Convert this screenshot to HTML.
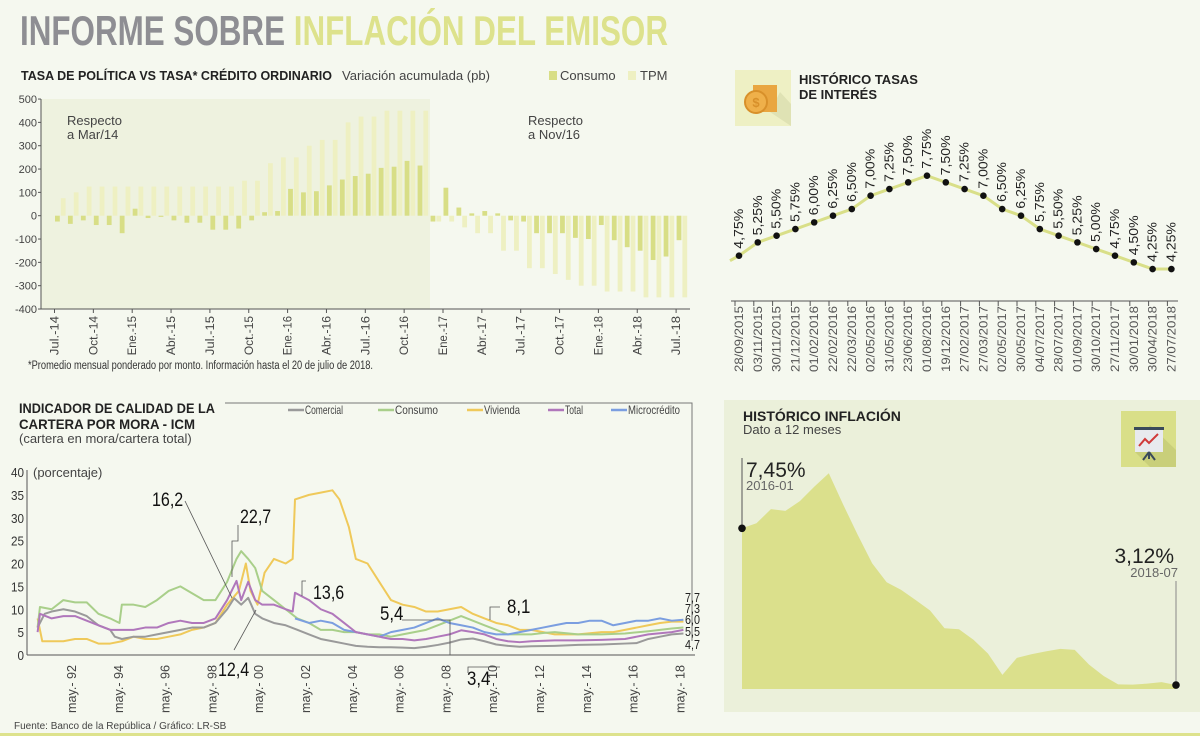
<!DOCTYPE html>
<html><head><meta charset="utf-8">
<style>
html,body{margin:0;padding:0;background:#f5f8ef;}
svg{display:block;font-family:"Liberation Sans Narrow","Liberation Sans",sans-serif;}
.b{font-family:"Liberation Sans",sans-serif;font-weight:bold;}
</style></head>
<body>
<svg id="svg" width="1200" height="736" viewBox="0 0 1200 736" xmlns="http://www.w3.org/2000/svg">
<rect x="0" y="0" width="1200" height="736" fill="#f5f8ef"/>
<text x="20" y="45" font-size="42" class="b" textLength="648" lengthAdjust="spacingAndGlyphs"><tspan fill="#8e8e93">INFORME SOBRE </tspan><tspan fill="#dde28c">INFLACIÓN DEL EMISOR</tspan></text>

<g id="tl">
<rect x="41" y="99" width="389" height="210" fill="#eef2df"/>
<text x="21" y="80" font-size="12.5" class="b" fill="#222" textLength="311" lengthAdjust="spacingAndGlyphs">TASA DE POLÍTICA VS TASA* CRÉDITO ORDINARIO</text>
<text x="342" y="80" font-size="13" fill="#444" textLength="148" lengthAdjust="spacingAndGlyphs">Variación acumulada (pb)</text>
<rect x="549" y="71" width="8" height="9" fill="#d8de86"/>
<text x="560" y="80" font-size="13" fill="#444">Consumo</text>
<rect x="628" y="71" width="8" height="9" fill="#eef0c2"/>
<text x="640" y="80" font-size="13" fill="#444">TPM</text>
<text x="67" y="125" font-size="13" fill="#444"><tspan x="67">Respecto</tspan><tspan x="67" dy="14">a Mar/14</tspan></text>
<text x="528" y="125" font-size="13" fill="#444"><tspan x="528">Respecto</tspan><tspan x="528" dy="14">a Nov/16</tspan></text>
<text x="28" y="369" font-size="11.5" fill="#333" textLength="345" lengthAdjust="spacingAndGlyphs">*Promedio mensual ponderado por monto. Información hasta el 20 de julio de 2018.</text>
</g>

<g id="tr">
<rect x="735" y="70" width="56" height="56" fill="#eef0c4"/>
<polygon points="770,112 791,126 791,104 780,92" fill="#dfe2b4"/>
<rect x="753" y="85" width="24" height="27" fill="#e9a640"/>
<circle cx="756" cy="102" r="11" fill="#efb04a" stroke="#d8902a" stroke-width="2"/>
<text x="756" y="107" font-size="13" text-anchor="middle" fill="#d8902a" class="b">$</text>
<text x="799" y="84" font-size="13" class="b" fill="#222"><tspan x="799">HISTÓRICO TASAS</tspan><tspan x="799" dy="15">DE INTERÉS</tspan></text>
<line x1="731" y1="301" x2="1178" y2="301" stroke="#555" stroke-width="1"/>
</g>

<g id="bl">
<text x="19" y="413" font-size="14" class="b" fill="#222"><tspan x="19" textLength="196" lengthAdjust="spacingAndGlyphs">INDICADOR DE CALIDAD DE LA</tspan><tspan x="19" dy="16" textLength="176" lengthAdjust="spacingAndGlyphs">CARTERA POR MORA   - ICM</tspan></text>
<text x="19" y="443" font-size="13" fill="#444">(cartera en mora/cartera total)</text>
<text x="33" y="477" font-size="13" fill="#444">(porcentaje)</text>
<polyline points="225,403 692,403 692,641" fill="none" stroke="#777" stroke-width="1"/>
<text x="14" y="729" font-size="10" fill="#444">Fuente: Banco de la República / Gráfico: LR-SB</text>
</g>
<rect x="0" y="733" width="1200" height="3" fill="#dde28c"/>

<g id="br">
<rect x="724" y="400" width="476" height="312" fill="#ebf0da"/>
<text x="743" y="421" font-size="14" class="b" fill="#222">HISTÓRICO INFLACIÓN</text>
<text x="743" y="434" font-size="13" fill="#444">Dato a 12 meses</text>
<rect x="1121" y="411" width="55" height="56" fill="#d9df88"/>
<polygon points="1150,425 1176,450 1176,467 1150,467 1135,452" fill="#c9cf7a"/>
<rect x="1134" y="427" width="30" height="3" fill="#3a4a5a"/>
<rect x="1135" y="430" width="28" height="22" fill="#e8eaee"/>
<polyline points="1139,446 1145,439 1149,443 1158,434" fill="none" stroke="#d03a3a" stroke-width="2"/>
<path d="M1149 452 L1143 460 M1149 452 L1155 460 M1149 452 L1149 459" stroke="#3a4a5a" stroke-width="2"/>
</g>
</svg>
<script>
const tlMonths = ["Jul.-14","Ago.-14","Sep.-14","Oct.-14","Nov.-14","Dic.-14","Ene.-15","Feb.-15","Mar.-15","Abr.-15","May.-15","Jun.-15","Jul.-15","Ago.-15","Sep.-15","Oct.-15","Nov.-15","Dic.-15","Ene.-16","Feb.-16","Mar.-16","Abr.-16","May.-16","Jun.-16","Jul.-16","Ago.-16","Sep.-16","Oct.-16","Nov.-16","Dic.-16","Ene.-17","Feb.-17","Mar.-17","Abr.-17","May.-17","Jun.-17","Jul.-17","Ago.-17","Sep.-17","Oct.-17","Nov.-17","Dic.-17","Ene.-18","Feb.-18","Mar.-18","Abr.-18","May.-18","Jun.-18","Jul.-18"];
const tlConsumo = [-25,-35,-20,-40,-40,-75,30,-10,-5,-20,-30,-30,-60,-60,-55,-20,15,20,115,100,105,130,155,170,180,205,210,235,215,-25,120,35,10,20,10,-20,-25,-75,-75,-75,-95,-100,-40,-105,-135,-150,-190,-175,-105];
const tlTPM = [75,100,125,125,125,125,125,125,125,125,125,125,125,125,150,150,225,250,250,300,325,325,400,425,425,450,450,450,450,-25,-25,-50,-75,-75,-150,-150,-225,-225,-250,-275,-300,-300,-325,-325,-325,-350,-350,-350,-350];
const tlYTicks = [500,400,300,200,100,0,-100,-200,-300,-400];

const trDates = ["28/09/2015","03/11/2015","30/11/2015","21/12/2015","01/02/2016","22/02/2016","22/03/2016","02/05/2016","31/05/2016","23/06/2016","01/08/2016","19/12/2016","27/02/2017","27/03/2017","02/05/2017","30/05/2017","04/07/2017","28/07/2017","01/09/2017","30/10/2017","27/11/2017","30/01/2018","30/04/2018","27/07/2018"];
const trRates = [4.75,5.25,5.50,5.75,6.00,6.25,6.50,7.00,7.25,7.50,7.75,7.50,7.25,7.00,6.50,6.25,5.75,5.50,5.25,5.00,4.75,4.50,4.25,4.25];

const blYTicks = [0,5,10,15,20,25,30,35,40];
const blXTicks = ["92","94","96","98","00","02","04","06","08","10","12","14","16","18"];
const blXTickYears = [1992,1994,1996,1998,2000,2002,2004,2006,2008,2010,2012,2014,2016,2018];
const comercialT = [1990.9,1991.2,1991.5,1992,1992.5,1993,1993.5,1994,1994.2,1994.5,1995,1995.5,1996,1996.5,1997,1997.5,1998,1998.5,1999,1999.3,1999.6,1999.9,2000.2,2000.5,2001,2001.5,2002,2002.5,2003,2003.5,2004,2004.5,2005,2005.5,2006,2006.5,2007,2007.5,2008,2008.5,2009,2009.5,2010,2010.5,2011,2011.5,2012,2013,2014,2015,2016,2016.5,2017,2017.5,2018,2018.5];
const comercialV = [6,9,9.5,10,9.5,8.5,6.5,5.5,4,3.5,4,4,4.5,5,5.5,6,6,7,10,12.4,11,12.5,9,8,7,6.5,5.5,4.5,3.5,3,2.5,2,1.8,1.7,1.7,1.6,1.5,1.8,2.2,2.7,3.4,3.6,3,2.3,2,1.8,1.9,2,2.2,2.3,2.5,2.6,3.5,4,4.5,4.7];
const consumoT = [1990.9,1991,1991.5,1992,1992.5,1993,1993.5,1994,1994.4,1994.5,1995,1995.5,1996,1996.5,1997,1997.5,1998,1998.5,1999,1999.4,1999.6,1999.9,2000.2,2000.5,2001,2001.5,2002,2002.5,2003,2003.5,2004,2004.5,2005,2005.5,2006,2006.5,2007,2007.5,2008,2008.5,2009,2009.5,2010,2010.5,2011,2011.5,2012,2012.5,2013,2014,2015,2016,2017,2018,2018.5];
const consumoV = [6,10.5,10,12,11.5,11.5,9,8,7,11,11,10.5,12,14,15,13.5,12,12,16,21,22.7,21,19,14,12,10,8,7,5.5,5.5,5,5,4.5,4.5,4,4.5,5,5.5,6.5,7.5,8.5,7.5,6.5,5.5,4.5,4.5,4.5,4.8,5,4.5,4.5,4.7,5.2,5.8,6.0];
const viviendaT = [1990.9,1991.1,1991.5,1992,1992.5,1993,1993.5,1994,1994.5,1995,1995.5,1996,1996.5,1997,1997.5,1998,1998.5,1999,1999.5,1999.8,2000,2000.3,2000.6,2001,2001.5,2001.8,2001.9,2002.5,2003,2003.5,2003.8,2004.2,2004.5,2005,2005.5,2006,2006.5,2007,2007.5,2008,2008.5,2009,2009.5,2010,2010.5,2011,2011.5,2012,2012.5,2013,2014,2015,2015.5,2016,2016.5,2017,2017.5,2018,2018.5];
const viviendaV = [8,3,3,3,3.5,3.5,2.5,2.5,3,4,3.5,3.5,4,4.5,5.5,6,7,11,14,20,14,11,18,21,20,21,34,35,35.5,36,34,28,21,20,16,12,11,10.5,9.5,9.5,10,10.5,9,8,7,6.5,5.5,5.5,5,4.5,4.5,5,5,5.5,6,6.5,7,7.3,7.3];
const totalT = [1990.9,1991,1991.5,1992,1992.5,1993,1993.5,1994,1994.5,1995,1995.5,1996,1996.5,1997,1997.5,1998,1998.5,1999,1999.4,1999.6,1999.9,2000.2,2000.5,2001,2001.5,2001.8,2001.9,2002.5,2003,2003.5,2004,2004.5,2005,2005.5,2006,2006.5,2007,2007.5,2008,2008.5,2009,2009.5,2010,2010.5,2011,2011.5,2012,2013,2014,2015,2016,2017,2018,2018.5];
const totalV = [5,9,8,8.5,8.5,7.5,6.5,5.5,5.5,5.5,6,6,7,7.5,7,7,8,12,16.2,12,16,12,11,11,10,9.5,13.6,12,10,9,7,5,4.5,4,3.5,3.5,3.2,3.5,4,4.5,5.4,5,4.5,3.5,3,2.8,3,3.2,3.2,3.3,3.5,4.5,5,5.5];
const microT = [2001.9,2002.5,2003,2003.5,2004,2004.5,2005,2005.5,2006,2006.5,2007,2007.5,2008,2008.5,2009,2009.5,2010,2010.5,2011,2011.5,2012,2012.5,2013,2013.5,2014,2014.5,2015,2015.5,2016,2016.5,2017,2017.5,2018,2018.5];
const microV = [8,7,7.5,7,5.5,5,4.5,4,5,5.5,6,7,8,7,6.5,6,5,4.5,4.5,5,5.5,6,6.5,7,7,7.5,7.5,6.5,7,7.5,7.5,8,7.5,7.7];
const blSeriesNames = ["Comercial","Consumo","Vivienda","Total","Microcrédito"];

const infMonths = ["2016-01","2016-02","2016-03","2016-04","2016-05","2016-06","2016-07","2016-08","2016-09","2016-10","2016-11","2016-12","2017-01","2017-02","2017-03","2017-04","2017-05","2017-06","2017-07","2017-08","2017-09","2017-10","2017-11","2017-12","2018-01","2018-02","2018-03","2018-04","2018-05","2018-06","2018-07"];
const infValues = [7.45,7.59,7.98,7.93,8.20,8.60,8.97,8.10,7.27,6.48,5.96,5.75,5.47,5.18,4.69,4.66,4.37,3.99,3.40,3.87,3.97,4.05,4.12,4.09,3.68,3.37,3.14,3.13,3.16,3.20,3.12];

const NS="http://www.w3.org/2000/svg";
function mk(parent, tag, attrs, text){
  const e=document.createElementNS(NS,tag);
  for(const k in attrs) e.setAttribute(k,attrs[k]);
  if(text!==undefined) e.textContent=text;
  document.getElementById(parent).appendChild(e);
  return e;
}

const xL=i=>54.5+i*12.95, yL=v=>215.7-v*0.2333;
tlYTicks.forEach(v=>{
  const t=mk('tl','text',{x:37,y:yL(v)+4,'font-size':11,'text-anchor':'end',fill:'#444'},String(v));
  
  
  const l=mk('tl','line',{x1:38,x2:41,y1:yL(v),y2:yL(v),stroke:'#555'});
  
  
});
tlMonths.forEach((m,i)=>{
  const c=tlConsumo[i], p=tlTPM[i];
  const b1=mk('tl','rect',{x:xL(i)+0.5,width:4.8,y:Math.min(yL(0),yL(c)),height:Math.abs(yL(c)-yL(0)),fill:'#d8de86'});
  
  
  const b2=mk('tl','rect',{x:xL(i)+6.3,width:4.8,y:Math.min(yL(0),yL(p)),height:Math.abs(yL(p)-yL(0)),fill:'#eef0c2'});
  
  
  if(i%3===0){
    const tk=mk('tl','line',{x1:xL(i),x2:xL(i),y1:309,y2:313,stroke:'#555'});
    
    
    const tx=mk('tl','text',{x:0,y:0,'font-size':11.5,'text-anchor':'end',fill:'#444',textLength:m.length*5.6,lengthAdjust:'spacingAndGlyphs',transform:`translate(${xL(i)+4},316) rotate(-90)`},m);
    
    
  }
});
const axL1=mk('tl','line',{x1:41,x2:41,y1:99,y2:309,stroke:'#555'});


const axL2=mk('tl','line',{x1:41,x2:690,y1:309,y2:309,stroke:'#555'});



const xR=i=>739+i*18.8, yR=v=>255.7-(v-4.75)*26.67;
let pts='730,'+(yR(4.75)+5)+' ';
trRates.forEach((v,i)=>{pts+=xR(i)+','+yR(v)+' ';});
const rl=mk('tr','polyline',{points:pts,fill:'none',stroke:'#d9df88','stroke-width':3});


trRates.forEach((v,i)=>{
  const d=mk('tr','circle',{cx:xR(i),cy:yR(v),r:3.3,fill:'#111'});
  
  
  const lb=mk('tr','text',{x:0,y:0,'font-size':13,fill:'#222',textLength:40,lengthAdjust:'spacingAndGlyphs',transform:`translate(${xR(i)+4},${yR(v)-7}) rotate(-90)`},v.toFixed(2).replace('.',',')+'%');
  
  
  const tk=mk('tr','line',{x1:xR(i)-4,x2:xR(i)-4,y1:301,y2:306,stroke:'#555'});
  
  
  const dl=mk('tr','text',{x:0,y:0,'font-size':12,'text-anchor':'end',fill:'#555',textLength:66,lengthAdjust:'spacingAndGlyphs',transform:`translate(${xR(i)+4},306) rotate(-90)`},trDates[i]);
  
  
});

const xB=t=>72+(t-1992.37)*23.4, yB=v=>655-v*4.575;
blYTicks.forEach(v=>{
  const t=mk('bl','text',{x:24,y:yB(v)+5,'font-size':13,'text-anchor':'end',fill:'#333',textLength:String(v).length*6.5,lengthAdjust:'spacingAndGlyphs'},String(v));
  
  
});
const ya=mk('bl','line',{x1:27,x2:27,y1:470,y2:655,stroke:'#555'});


const xa=mk('bl','line',{x1:27,x2:695,y1:655,y2:655,stroke:'#555'});


blXTicks.forEach((lab,i)=>{
  const x=xB(blXTickYears[i]+0.37);
  const t=mk('bl','text',{x:0,y:0,'font-size':12.5,'text-anchor':'end',fill:'#444',textLength:48,lengthAdjust:'spacingAndGlyphs',transform:`translate(${x+4},665) rotate(-90)`},'may.- '+lab);
  
  
});
const blData=[[comercialT,comercialV,'#9a9a9a'],[consumoT,consumoV,'#a9cf8a'],[viviendaT,viviendaV,'#efc95a'],[totalT,totalV,'#b077bb'],[microT,microV,'#7b9ee0']];
const drawOrder=[2,1,0,4,3];
drawOrder.forEach(k=>{
  const [T,V,col]=blData[k];
  const p=T.map((t,i)=>xB(t)+','+yB(V[i])).join(' ');
  const l=mk('bl','polyline',{points:p,fill:'none',stroke:col,'stroke-width':2,'stroke-linejoin':'round'});
  
  
});
const legX=[288,378,467,548,611];
const legW=[38,43,36,18,52];
blSeriesNames.forEach((n,i)=>{
  const l=mk('bl','line',{x1:legX[i],x2:legX[i]+16,y1:410,y2:410,stroke:blData[i][2],'stroke-width':2.5});
  
  
  const t=mk('bl','text',{x:legX[i]+17,y:414,'font-size':12,fill:'#444',textLength:legW[i],lengthAdjust:'spacingAndGlyphs'},n);
  
  
});
const ann=[["22,7",240,523],["16,2",152,506],["12,4",218,676],["13,6",313,599],["5,4",380,620],["8,1",507,613],["3,4",467,685]];
ann.forEach(a=>{
  const t=mk('bl','text',{x:a[1],y:a[2],'font-size':19,fill:'#111',textLength:a[0].length*7.8,lengthAdjust:'spacingAndGlyphs'},a[0]);
  
  
});
const leaders=["238,525 238,541 232,541 232,577","185,501 232,598","234,650 256,610","306,581 302,581 302,596","402,620 450,620 450,655","500,607 490,607 490,620","468,673 468,667 500,667"];
leaders.forEach(p=>{
  const l=mk('bl','polyline',{points:p,fill:'none',stroke:'#555','stroke-width':0.8});
  
  
});
const endLabs=[["7,7",596],["7,3",607],["6,0",618],["5,5",630],["4,7",643]];
endLabs.forEach(a=>{
  const t=mk('bl','text',{x:685,y:a[1]+6,'font-size':13,fill:'#222',textLength:15,lengthAdjust:'spacingAndGlyphs'},a[0]);
  
  
});

const n=infValues.length;
const xI=i=>742+i*(434/(n-1)), yI=v=>528.3-(v-7.45)*36.2;
let ap='742,689 ';
infValues.forEach((v,i)=>{ap+=xI(i)+','+yI(v)+' ';});
ap+=xI(n-1)+',689';
const ar=mk('br','polygon',{points:ap,fill:'#dbe08c'});


const l1=mk('br','line',{x1:742,x2:742,y1:458,y2:yI(infValues[0]),stroke:'#555'});


const l2=mk('br','line',{x1:xI(n-1),x2:xI(n-1),y1:581,y2:yI(infValues[n-1]),stroke:'#888'});


[0,n-1].forEach(i=>{
  const c=mk('br','circle',{cx:xI(i),cy:yI(infValues[i]),r:3.8,fill:'#111'});
  
  
});
const s1=mk('br','text',{x:746,y:477,'font-size':21,fill:'#222','font-family':'Liberation Sans, sans-serif'},infValues[0].toFixed(2).replace('.',',')+'%');


const s2=mk('br','text',{x:746,y:490,'font-size':13,fill:'#666','font-family':'Liberation Sans, sans-serif'},infMonths[0]);


const e1=mk('br','text',{x:1174,y:563,'font-size':21,'text-anchor':'end',fill:'#222','font-family':'Liberation Sans, sans-serif'},infValues[n-1].toFixed(2).replace('.',',')+'%');


const e2=mk('br','text',{x:1178,y:577,'font-size':13,'text-anchor':'end',fill:'#666','font-family':'Liberation Sans, sans-serif'},infMonths[n-1]);


</script>
</body></html>
